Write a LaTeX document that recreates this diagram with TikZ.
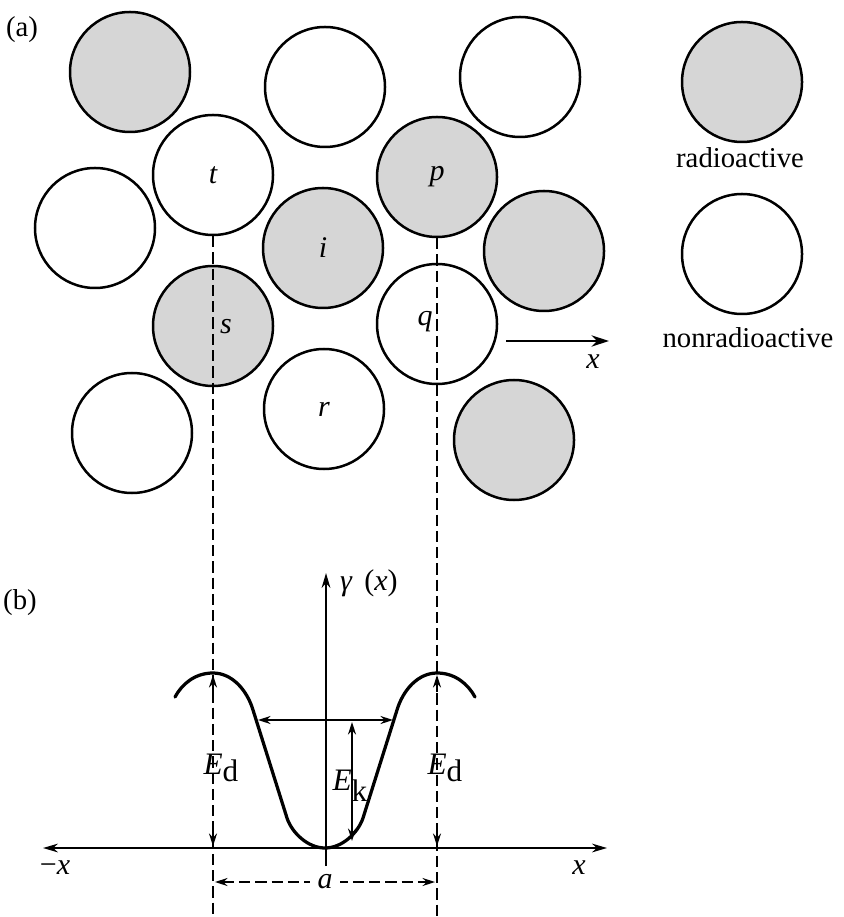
\documentclass[tikz,border=0pt]{standalone}
\usepackage{fontspec}
\setmainfont{Liberation Serif}
\usetikzlibrary{arrows.meta}
\definecolor{atomgray}{gray}{0.84}
\tikzset{smalltip/.tip={Stealth[length=5pt,width=3.2pt]},
  axistip/.tip={Stealth[length=6pt,width=3.5pt]},
  bigtip/.tip={Stealth[length=7pt,width=4.5pt]}}
\begin{document}
\begin{tikzpicture}[x=0.4pt,y=-0.4pt,
  atom/.style={circle,draw=black,line width=1pt,minimum size=48pt,inner sep=0pt,font=\itshape\fontsize{12}{12}\selectfont},
  hot/.style={atom,fill=atomgray},
  cold/.style={atom,fill=white},
  lab/.style={font=\itshape\fontsize{12}{12}\selectfont,inner sep=1pt},
  txt/.style={font=\fontsize{11.5}{12}\selectfont,inner sep=1pt},
  big/.style={font=\fontsize{12.5}{13}\selectfont,inner sep=1pt},
  vline/.style={line width=0.5pt,dash pattern=on 4.5pt off 2pt},
  axisline/.style={line width=0.7pt},
  curve/.style={line width=1.3pt,line cap=round}
]
\useasboundingbox (0,0) rectangle (843,917);
% panel labels
\node[txt] (pa) at (22,30) {(a)};
\node[txt] (pb) at (20,603) {(b)};
% atoms
\node[hot]  (g1) at (130,72) {};
\node[cold] (w1) at (325,87) {};
\node[cold] (w2) at (520,77) {};
\node[cold] (t)  at (213,175) {t};
\node[hot]  (p)  at (437,177) {p};
\node[cold] (w3) at (95,228) {};
\node[hot]  (i)  at (323,248) {i};
\node[hot]  (g2) at (544,251) {};
\node[hot]  (s)  at (213,326) {};
\node[cold] (q)  at (437,324) {};
\node[cold] (w4) at (132,433) {};
\node[cold] (r)  at (324,409) {r};
\node[hot]  (g3) at (514,440) {};
\node[lab] (sl) at (226,327) {s};
\node[lab] (ql) at (425,322) {q};
% legend
\node[hot]  (lr)  at (742,82) {};
\node[txt]  (lrt) at (740,158) {radioactive};
\node[cold] (ln)  at (742,254) {};
\node[txt]  (lnt) at (748,338) {nonradioactive};
% x arrow
\coordinate (xa0) at (506,341);
\coordinate (xa1) at (609,341);
\draw[line width=1pt,-{bigtip}] (xa0) -- (xa1);
\node[lab] (xlab) at (593,362) {x};
% dashed guide lines
\coordinate (bot) at (0,917);
\draw[vline] (t.south) -- (t.south |- bot);
\draw[vline] (p.south) -- (p.south |- bot);
% axes
\coordinate (xl) at (43,848);
\coordinate (xr) at (607,848);
\coordinate (yb) at (326,866);
\coordinate (yt) at (326,573);
\draw[axisline,{axistip}-{axistip}] (xl) -- (xr);
\draw[axisline,-{axistip}] (yb) -- (yt);
\node[lab,anchor=west] (ylab) at (337,583) {γ\, \textup{(}x\textup{)}};
\node[lab] (mxl) at (55,868) {\textup{−}x};
\node[lab] (pxl) at (579,868) {x};
% potential curve
\draw[curve] (175,697) .. controls (182,684) and (195,673) .. (213,673)
  .. controls (232,673) and (247,690) .. (253,710) -- (287,818)
  .. controls (292,833) and (308,848) .. (325,848)
  .. controls (342,848) and (358,833) .. (363,818) -- (397,710)
  .. controls (403,690) and (418,673) .. (437,673)
  .. controls (455,673) and (468,684) .. (475,697);
% horizontal double arrow
\coordinate (hl) at (258,720);
\coordinate (hr) at (393,720);
\draw[axisline,{smalltip}-{smalltip}] (hl) -- (hr);
% Ek arrow
\coordinate (ekt) at (352,722);
\coordinate (ekb) at (352,841);
\draw[axisline,{smalltip}-{smalltip}] (ekb) -- (ekt);
\node[big] (ek) at (350,786) {\textit{E}\raisebox{-0.8ex}{k}};
% Ed arrow tips
\coordinate (ed1t) at (213,675);
\coordinate (ed1a) at (213,692);
\coordinate (ed1b) at (213,846);
\coordinate (ed1c) at (213,829);
\draw[axisline,-{smalltip}] (ed1a) -- (ed1t);
\draw[axisline,-{smalltip}] (ed1c) -- (ed1b);
\coordinate (ed2t) at (437,675);
\coordinate (ed2a) at (437,692);
\coordinate (ed2b) at (437,846);
\coordinate (ed2c) at (437,829);
\draw[axisline,-{smalltip}] (ed2a) -- (ed2t);
\draw[axisline,-{smalltip}] (ed2c) -- (ed2b);
\node[big] (ed1) at (221,768) {\textit{E}\raisebox{-0.5ex}{d}};
\node[big] (ed2) at (445,768) {\textit{E}\raisebox{-0.5ex}{d}};
% a dimension
\coordinate (al) at (215,882);
\coordinate (ar) at (435,882);
\draw[vline,{smalltip}-{smalltip}] (al) -- node[fill=white,lab,inner sep=3pt] (alab) {a} (ar);
\end{tikzpicture}
\end{document}
